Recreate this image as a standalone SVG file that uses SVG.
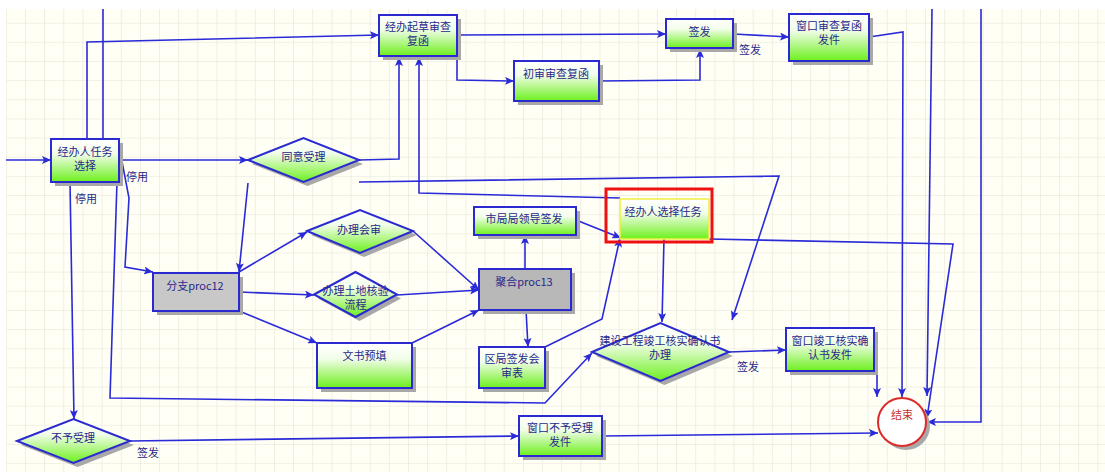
<svg xmlns="http://www.w3.org/2000/svg" width="1105" height="472" viewBox="0 0 1105 472">
<style>
.box{fill:url(#gg);stroke:#2a2ad0;stroke-width:2}
.gray1{fill:#c8c8c8;stroke:#2a2ad0;stroke-width:2}
.gray2{fill:#b8b8b8;stroke:#2a2ad0;stroke-width:2}
.sh{fill:#a8a8a8}
.t{font-family:"Noto Sans CJK SC","Liberation Sans",sans-serif;font-size:11px;fill:#28288a;text-anchor:middle}
.lb{font-family:"Noto Sans CJK SC","Liberation Sans",sans-serif;font-size:11px;fill:#28288a}
.c{fill:none;stroke:#2a2ad8;stroke-width:1.6;stroke-linejoin:miter}
.a{marker-end:url(#arr)}
</style>
<defs>
<linearGradient id="gg" x1="0" y1="0" x2="0" y2="1">
<stop offset="0" stop-color="#ffffff"/>
<stop offset="0.35" stop-color="#f2fde9"/>
<stop offset="1" stop-color="#6cf01c"/>
</linearGradient>
<pattern id="grid" patternUnits="userSpaceOnUse" x="5.85" y="3.55" width="19.15" height="19.15">
<rect width="19.15" height="19.15" fill="#fffff5"/>
<path d="M0 0H19.15M0 0V19.15" stroke="#ebebdf" stroke-width="1.6"/>
</pattern>
<marker id="arr" markerUnits="userSpaceOnUse" markerWidth="10" markerHeight="8" refX="9" refY="4" orient="auto">
<path d="M0,0 L9,4 L0,8 L2,4 z" fill="#2a2ad8"/>
</marker>
</defs>
<rect x="0" y="0" width="1105" height="472" fill="#ffffff"/>
<rect x="6" y="9" width="1099" height="463" fill="url(#grid)"/>

<g id="connectors">
<polyline class="c a" points="6,160 51,160"/>
<polyline class="c a" points="119,160 248,160"/>
<polyline class="c a" points="87,139 87,42 379,35"/>
<polyline class="c" points="103,9 103,139"/>
<polyline class="c a" points="359,160 399,159 399,57"/>
<polyline class="c a" points="457,35 666,34"/>
<polyline class="c a" points="457,56 457,80 514,81"/>
<polyline class="c a" points="599,81 700,80 700,49"/>
<polyline class="c a" points="733,34 789,37"/>
<polyline class="c a" points="869,37 903,32 902,397"/>
<polyline class="c a" points="932,9 927,396"/>
<polyline class="c a" points="981,9 981,422 927,422"/>
<polyline class="c a" points="709,239 953,244 927,418"/>
<polyline class="c a" points="119,146 129,198 125,267 153,272"/>
<polyline class="c a" points="70,182 74,419"/>
<polyline class="c a" points="117,182 110,398 545,403 592,353"/>
<polyline class="c a" points="248,183 239,272"/>
<polyline class="c a" points="239,272 307,232"/>
<polyline class="c a" points="239,292 314,295"/>
<polyline class="c a" points="239,311 317,343"/>
<polyline class="c a" points="413,231 479,290"/>
<polyline class="c a" points="397,295 479,290"/>
<polyline class="c a" points="412,343 479,310"/>
<polyline class="c a" points="525,269 525,235"/>
<polyline class="c a" points="526,310 528,347"/>
<polyline class="c a" points="545,347 602,319 620,238"/>
<polyline class="c a" points="576,220 621,238"/>
<polyline class="c a" points="664,239 662,322"/>
<polyline class="c a" points="620,198 419,193 419,57"/>
<polyline class="c a" points="359,182 779,176 732,320"/>
<polyline class="c a" points="729,352 786,350"/>
<polyline class="c a" points="874,350 877,352 877,397"/>
<polyline class="c a" points="602,436 878,433"/>
<polyline class="c a" points="130,441 519,436"/>
<text class="lb" x="739" y="54">签发</text>
<text class="lb" x="126" y="181">停用</text>
<text class="lb" x="75" y="203">停用</text>
<text class="lb" x="737" y="371">签发</text>
<text class="lb" x="137" y="457">签发</text>
</g>

<g id="n1">
<rect class="sh" x="55" y="143" width="68" height="43"/>
<rect class="box" x="51" y="139" width="68" height="43"/>
<text class="t" x="85" y="156">经办人任务</text>
<text class="t" x="85" y="170">选择</text>
</g>
<g id="n2">
<polygon class="sh" points="252,164 307.5,142 363,164 307.5,186"/>
<polygon class="box" points="248,160 303.5,138 359,160 303.5,182"/>
<text class="t" x="303.5" y="161">同意受理</text>
</g>
<g id="n3">
<rect class="sh" x="383" y="19" width="78" height="41"/>
<rect class="box" x="379" y="15" width="78" height="41"/>
<text class="t" x="418" y="31">经办起草审查</text>
<text class="t" x="418" y="45">复函</text>
</g>
<g id="n4">
<rect class="sh" x="670" y="23" width="67" height="29"/>
<rect class="box" x="666" y="19" width="67" height="29"/>
<text class="t" x="699.5" y="36">签发</text>
</g>
<g id="n5">
<rect class="sh" x="518" y="65" width="85" height="40"/>
<rect class="box" x="514" y="61" width="85" height="40"/>
<text class="t" x="556" y="78">初审审查复函</text>
</g>
<g id="n6">
<rect class="sh" x="793" y="18" width="80" height="47"/>
<rect class="box" x="789" y="14" width="80" height="47"/>
<text class="t" x="829" y="30">窗口审查复函</text>
<text class="t" x="829" y="44">发件</text>
</g>
<g id="n7">
<rect x="620" y="199" width="89" height="40" fill="url(#gg)" stroke="#f0f040" stroke-width="1.5"/>
<rect x="606" y="189" width="106" height="53" fill="none" stroke="#ee1111" stroke-width="3"/>
<text class="t" x="663" y="216">经办人选择任务</text>
</g>
<g id="n8">
<rect class="sh" x="478" y="211" width="102" height="28"/>
<rect class="box" x="474" y="207" width="102" height="28"/>
<text class="t" x="524" y="223">市局局领导签发</text>
</g>
<g id="n9">
<polygon class="sh" points="311,235 364,214 417,235 364,257"/>
<polygon class="box" points="307,231 360,210 413,231 360,253"/>
<text class="t" x="359" y="234">办理会审</text>
</g>
<g id="n10">
<rect class="sh" x="157" y="277" width="86" height="38"/>
<rect class="gray1" x="153" y="273" width="86" height="38"/>
<text class="t" x="195" y="290">分支proc12</text>
</g>
<g id="n11">
<polygon class="sh" points="318,298.5 359.5,276 401,298.5 359.5,321"/>
<polygon class="box" points="314,294.5 355.5,272 397,294.5 355.5,317"/>
<text class="t" x="355.5" y="295">办理土地核验</text>
<text class="t" x="355.5" y="309">流程</text>
</g>
<g id="n12">
<rect class="sh" x="321" y="347" width="95" height="45"/>
<rect class="box" x="317" y="343" width="95" height="45"/>
<text class="t" x="364.5" y="360">文书预填</text>
</g>
<g id="n13">
<rect class="sh" x="483" y="273" width="92" height="41"/>
<rect class="gray2" x="479" y="269" width="92" height="41"/>
<text class="t" x="524" y="286">聚合proc13</text>
</g>
<g id="n14">
<rect class="sh" x="483" y="351" width="66" height="41"/>
<rect class="box" x="479" y="347" width="66" height="41"/>
<text class="t" x="512" y="363">区局签发会</text>
<text class="t" x="512" y="377">审表</text>
</g>
<g id="n15">
<polygon class="sh" points="596,356 664.5,327 733,356 664.5,385"/>
<polygon class="box" points="592,352 660.5,323 729,352 660.5,381"/>
<text class="t" x="660" y="345">建设工程竣工核实确认书</text>
<text class="t" x="660" y="359">办理</text>
</g>
<g id="n16">
<rect class="sh" x="790" y="332" width="88" height="43"/>
<rect class="box" x="786" y="328" width="88" height="43"/>
<text class="t" x="830" y="345">窗口竣工核实确</text>
<text class="t" x="830" y="359">认书发件</text>
</g>
<g id="n17">
<circle cx="906" cy="426" r="24" fill="#a8a8a8"/>
<circle cx="902" cy="422" r="24" fill="#ffffff" stroke="#dd2a2a" stroke-width="2"/>
<text class="t" x="902" y="419" style="fill:#c83434">结束</text>
</g>
<g id="n18">
<polygon class="sh" points="21,445 77.5,423 134,445 77.5,467"/>
<polygon class="box" points="17,441 73.5,419 130,441 73.5,463"/>
<text class="t" x="73" y="442">不予受理</text>
</g>
<g id="n19">
<rect class="sh" x="523" y="420" width="83" height="40"/>
<rect class="box" x="519" y="416" width="83" height="40"/>
<text class="t" x="560" y="432">窗口不予受理</text>
<text class="t" x="560" y="446">发件</text>
</g>
</svg>
